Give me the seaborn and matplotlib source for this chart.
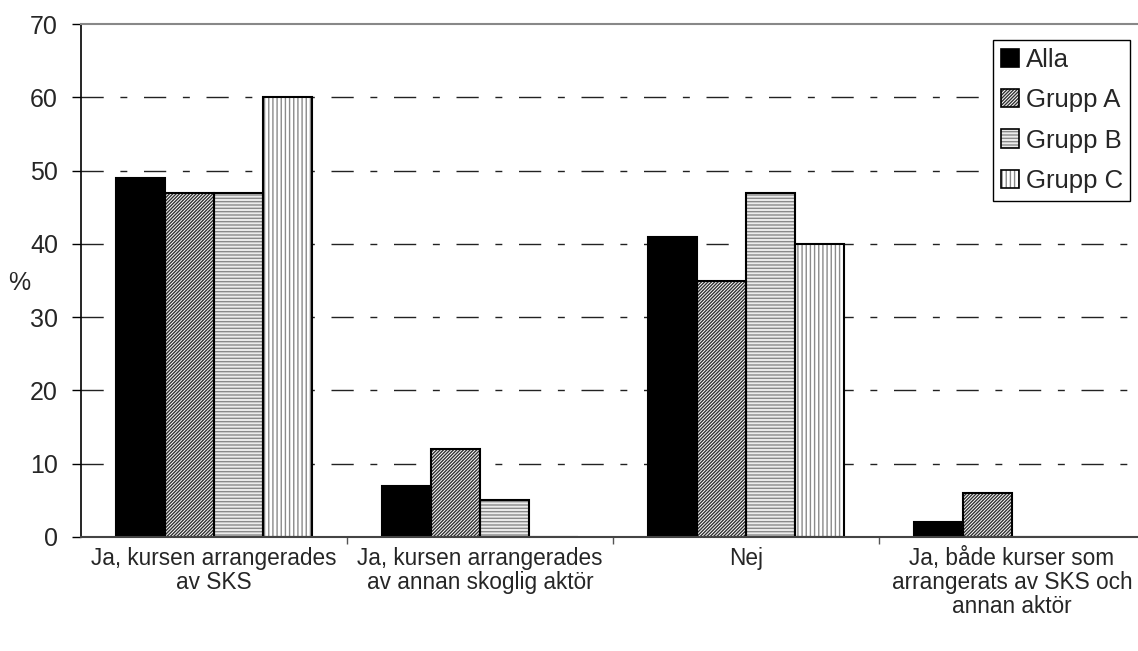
import matplotlib.pyplot as plt
import pandas as pd
import seaborn as sns
from matplotlib.legend_handler import HandlerTuple
from matplotlib.patches import Patch, Rectangle
from matplotlib.ticker import FixedLocator

categories = [
    "Ja, kursen arrangerades\nav SKS",
    "Ja, kursen arrangerades\nav annan skoglig aktör",
    "Nej",
    "Ja, både kurser som\narrangerats av SKS och\nannan aktör",
]
groups = ["Alla", "Grupp A", "Grupp B", "Grupp C"]
alla = [49, 7, 41, 2]
grupp_a = [47, 12, 35, 6]
grupp_b = [47, 5, 47, 0]
grupp_c = [60, 0, 40, 0]

# face colour, hatch, hatch colour
styles = {
    "Alla": ("black", "", "black"),
    "Grupp A": ("white", "/" * 10, "#333333"),
    "Grupp B": ("#ececec", "-----", "#8a8a8a"),
    "Grupp C": ("white", "||||", "#8a8a8a"),
}

df = pd.DataFrame({
    "category": categories * 4,
    "group": [g for g in groups for _ in categories],
    "value": alla + grupp_a + grupp_b + grupp_c,
})

sns.set_style("white")
plt.rcParams["font.family"] = ["Liberation Sans", "DejaVu Sans"]
plt.rcParams["hatch.linewidth"] = 1.0

fig = plt.figure(figsize=(11.38, 6.51), dpi=100)
ax = fig.add_axes([81 / 1138, 1 - 537 / 651, 1064 / 1138, 513 / 651])

sns.barplot(
    df, x="category", y="value", hue="group",
    order=categories, hue_order=groups,
    palette=["white"] * 4, saturation=1, width=0.74,
    errorbar=None, legend=False, ax=ax,
)

handles = []
for container, group in zip(ax.containers, groups):
    face, hatch, hcol = styles[group]
    for bar in container:
        bar.set_facecolor(face)
        bar.set_hatch(hatch)
        bar.set_edgecolor(hcol)
        bar.set_linewidth(0)
        ax.add_patch(Rectangle(bar.get_xy(), bar.get_width(), bar.get_height(),
                               fill=False, edgecolor="black", linewidth=1.5,
                               zorder=bar.get_zorder() + 0.1))
    handles.append((Patch(facecolor=face, hatch=hatch, edgecolor=hcol, linewidth=0),
                    Patch(fill=False, edgecolor="black", linewidth=1.2)))

ax.set_ylim(0, 70)
ax.set_xlim(-0.5, 3.5)
ax.set_yticks(range(0, 71, 10))
ax.set_axisbelow(True)
ax.yaxis.grid(True, linestyle=(0, (16, 12, 5, 12)), color="#222222", linewidth=1)
gl = ax.get_ygridlines()
gl[0].set_visible(False)
gl[-1].set_visible(False)

ax.spines["right"].set_visible(False)
ax.spines["top"].set_color("#888888")
ax.spines["top"].set_linewidth(1.5)
ax.spines["left"].set_color("black")
ax.spines["left"].set_linewidth(1.2)
ax.spines["bottom"].set_color("#444444")
ax.spines["bottom"].set_linewidth(1.5)

ax.tick_params(axis="y", which="major", left=True, length=6.5, width=1,
               direction="out", labelsize=18, pad=10, color="black")
ax.tick_params(axis="x", which="major", length=0, labelsize=16.3, pad=7)
ax.xaxis.set_minor_locator(FixedLocator([0.5, 1.5, 2.5]))
ax.tick_params(axis="x", which="minor", bottom=True, length=5, width=1,
               direction="out", color="#555555")
for lbl in ax.get_xticklabels():
    lbl.set_linespacing(1.05)
    lbl.set_verticalalignment("top")

ax.set_xlabel("")
ax.set_ylabel("%", rotation=0, fontsize=18, va="center", ha="center")
ax.yaxis.set_label_coords(-0.058, 0.495)

leg = ax.legend(
    handles, groups, handler_map={tuple: HandlerTuple(ndivide=1)},
    loc="upper left", bbox_to_anchor=(993 / 1138, 1 - 40 / 651),
    bbox_transform=fig.transFigure, borderaxespad=0,
    frameon=True, fancybox=False, edgecolor="black", framealpha=1,
    fontsize=18.5, handlelength=0.72, handleheight=0.72,
    handletextpad=0.25, labelspacing=0.64, borderpad=0.3,
)
leg.get_frame().set_linewidth(1.0)

fig.savefig("out.png", dpi=100)
plt.close(fig)
